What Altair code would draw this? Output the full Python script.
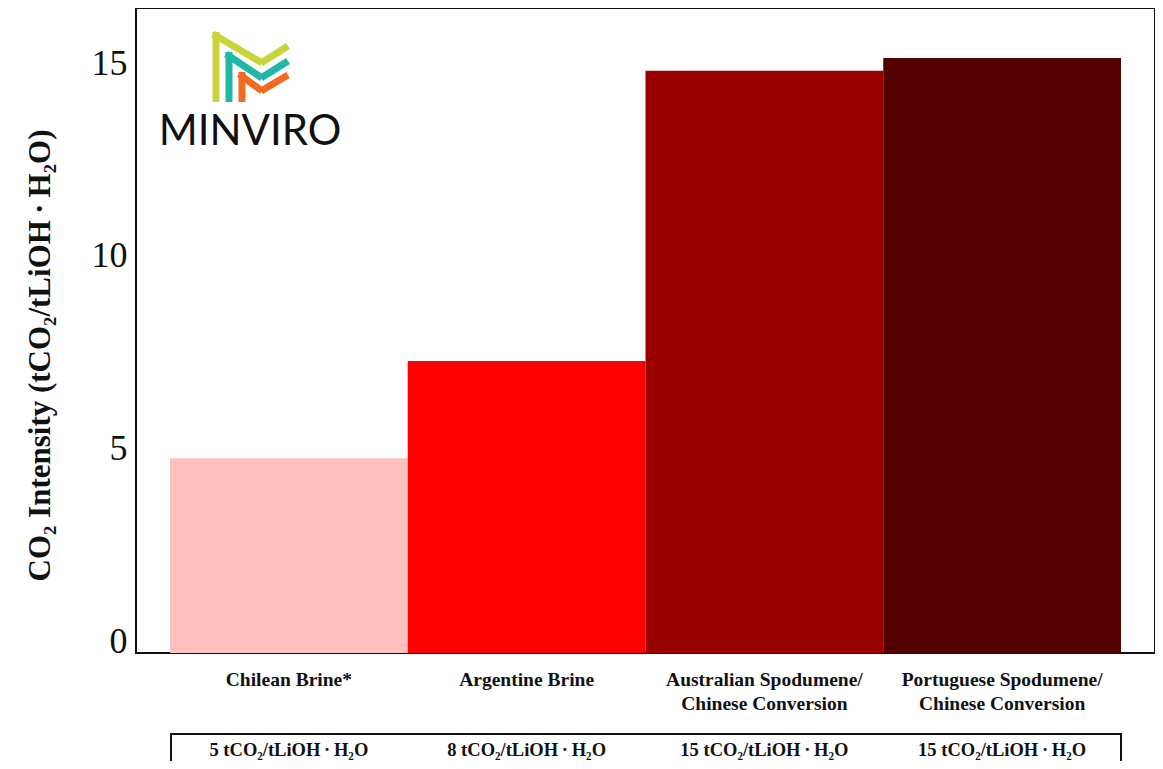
import altair as alt
import pandas as pd

categories = [
    "Chilean Brine*",
    "Argentine Brine",
    "Australian Spodumene/Chinese Conversion",
    "Portuguese Spodumene/Chinese Conversion",
]
intensity = [5.06, 7.58, 15.12, 15.45]
table_labels = [
    "5 tCO₂/tLiOH\u2009·\u2009H₂O",
    "8 tCO₂/tLiOH\u2009·\u2009H₂O",
    "15 tCO₂/tLiOH\u2009·\u2009H₂O",
    "15 tCO₂/tLiOH\u2009·\u2009H₂O",
]
bar_colors = ["#ffc0c0", "#ff0000", "#990000", "#520000"]
y_ticks = [0, 5, 10, 15]

df = pd.DataFrame({"category": categories, "intensity": intensity, "table": table_labels})
one = pd.DataFrame({"a": [0]})

SERIF = "Liberation Serif"
W, H = 1019, 645

x_enc = alt.X(
    "category:N",
    sort=categories,
    scale=alt.Scale(paddingInner=0, paddingOuter=0.143),
    axis=alt.Axis(
        title=None, labelAngle=0, labelFont=SERIF, labelFontWeight="bold",
        labelFontSize=19.5, labelColor="#111", labelPadding=17, labelLineHeight=24,
        labelLimit=400, ticks=False, domain=False, grid=False,
        labelExpr="split(replace(datum.label, '/', '/|'), '|')",
    ),
)

bars = alt.Chart(df).mark_bar().encode(
    x=x_enc,
    y=alt.Y(
        "intensity:Q",
        scale=alt.Scale(domain=[0, 16.75], nice=False),
        axis=alt.Axis(
            values=y_ticks, title="CO₂ Intensity (tCO₂/tLiOH\u2009·\u2009H₂O)",
            titleFont=SERIF, titleFontWeight="bold", titleFontSize=31, titleColor="#111",
            titleX=-96, titleY=347, titleBaseline="middle", titleAngle=-90,
            labelFont=SERIF, labelFontSize=36, labelColor="#111", labelPadding=9,
            labelOffset=-12, grid=False, ticks=False, domain=False,
        ),
    ),
    color=alt.Color("category:N", sort=categories,
                    scale=alt.Scale(domain=categories, range=bar_colors), legend=None),
)

table_text = alt.Chart(df).mark_text(
    font=SERIF, fontWeight="bold", fontSize=18.5, color="#111", baseline="middle"
).encode(x=alt.X("category:N", sort=categories), y=alt.value(742), text="table:N")

table_box = alt.Chart(one).mark_rect(fillOpacity=0, stroke="#111", strokeWidth=2).encode(
    x=alt.value(35), x2=alt.value(985), y=alt.value(726), y2=alt.value(800)
)

logo_text = alt.Chart(one).mark_text(
    text="MINVIRO", font="Lato", fontSize=42, color="#111", baseline="middle", align="center"
).encode(x=alt.value(114), y=alt.value(124))

# logo chevrons (decoration)
ox, oy = 136, 8
def seg(c, x1, y1, x2, y2):
    return alt.Chart(one).mark_rule(color=c, strokeWidth=7, strokeCap="butt").encode(
        x=alt.value(x1 - ox), y=alt.value(y1 - oy), x2=alt.value(x2 - ox), y2=alt.value(y2 - oy)
    )

logo = [
    seg("#c8d43a", 216, 32, 216, 102), seg("#c8d43a", 213, 34, 262, 63), seg("#c8d43a", 261, 63, 288, 46),
    seg("#1fb8a8", 229, 52, 229, 102), seg("#1fb8a8", 226, 54, 262, 78), seg("#1fb8a8", 261, 78, 288, 61),
    seg("#f26b22", 242, 72, 242, 102), seg("#f26b22", 239, 74, 262, 91), seg("#f26b22", 261, 91, 288, 75),
]

chart = alt.layer(bars, table_text, table_box, logo_text, *logo).properties(
    width=W, height=H,
    autosize=alt.AutoSizeParams(type="none"),
    padding={"left": 128, "top": 0, "right": 0, "bottom": 108},
).configure(background="white", view=alt.ViewConfig(stroke="#111", strokeWidth=2))

chart.save("out.html", embed_options={"renderer": "svg", "actions": False})
